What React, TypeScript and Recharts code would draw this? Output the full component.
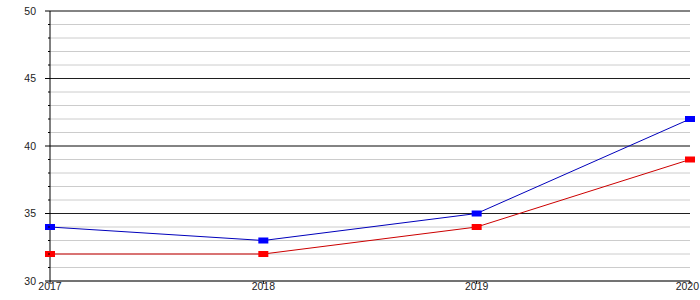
import React from "react";
import { LineChart, Line, XAxis, YAxis, CartesianGrid, ReferenceLine } from "recharts";

const years = ["2017", "2018", "2019", "2020"];
const blueValues = [34, 33, 35, 42];
const redValues = [32, 32, 34, 39];
const yTicks = Array.from({ length: 21 }, (_, i) => 30 + i);
const majorTicks = [35, 40, 45, 50];

const data = years.map((y, i) => ({ year: y, blue: blueValues[i], red: redValues[i] }));

const FONT = "'Liberation Sans', Arial, sans-serif";

const YTick = (props: any) => {
  const { x, y, payload } = props;
  const major = payload.value % 5 === 0;
  return (
    <g>
      <line x1={x - (major ? 5 : 2)} x2={x} y1={y} y2={y} stroke="#000" />
      {major && (
        <text x={x - 14} y={y} dy="0.35em" textAnchor="end" fontSize={10.5} fill="#222" fontFamily={FONT}>
          {payload.value}
        </text>
      )}
    </g>
  );
};

const XTick = (props: any) => {
  const { x, y, payload, index } = props;
  const last = index === years.length - 1;
  return (
    <g>
      <line x1={x} x2={x} y1={y} y2={y + 3} stroke="#000" />
      <text
        x={last ? x + 9 : x}
        y={y + 2}
        dy="0.71em"
        textAnchor={last ? "end" : "middle"}
        fontSize={10.5}
        fill="#222"
        fontFamily={FONT}
      >
        {payload.value}
      </text>
    </g>
  );
};

const makeDot = (color: string) => (props: any) => {
  const { cx, cy, index } = props;
  if (cx == null || cy == null) return <g key={index} />;
  return <rect key={index} x={cx - 5} y={cy - 3} width={10} height={6} fill={color} />;
};

export default function App() {
  return (
    <div style={{ position: "absolute", left: 0, top: 0, background: "#fff" }}>
      <LineChart width={700} height={300} data={data} margin={{ top: 11, right: 10, bottom: 0, left: 0 }}>
        <CartesianGrid vertical={false} stroke="#cccccc" strokeDasharray="" />
        {majorTicks.map((v) => (
          <ReferenceLine key={v} y={v} stroke="#000" strokeOpacity={0.85} ifOverflow="extendDomain" />
        ))}
        <XAxis
          dataKey="year"
          height={19}
          tickSize={0}
          tickMargin={0}
          tick={<XTick />}
          axisLine={{ stroke: "#000" }}
          tickLine={false}
          interval={0}
        />
        <YAxis
          width={50}
          domain={[30, 50]}
          ticks={yTicks}
          interval={0}
          tickSize={0}
          tickMargin={0}
          tick={<YTick />}
          tickLine={false}
          axisLine={{ stroke: "#000" }}
          allowDataOverflow
        />
        <Line
          dataKey="red"
          stroke="#cc0000"
          strokeWidth={1}
          dot={makeDot("#ff0000")}
          activeDot={false}
          isAnimationActive={false}
          type="linear"
        />
        <Line
          dataKey="blue"
          stroke="#0000bb"
          strokeWidth={1}
          dot={makeDot("#0000ff")}
          activeDot={false}
          isAnimationActive={false}
          type="linear"
        />
      </LineChart>
    </div>
  );
}
